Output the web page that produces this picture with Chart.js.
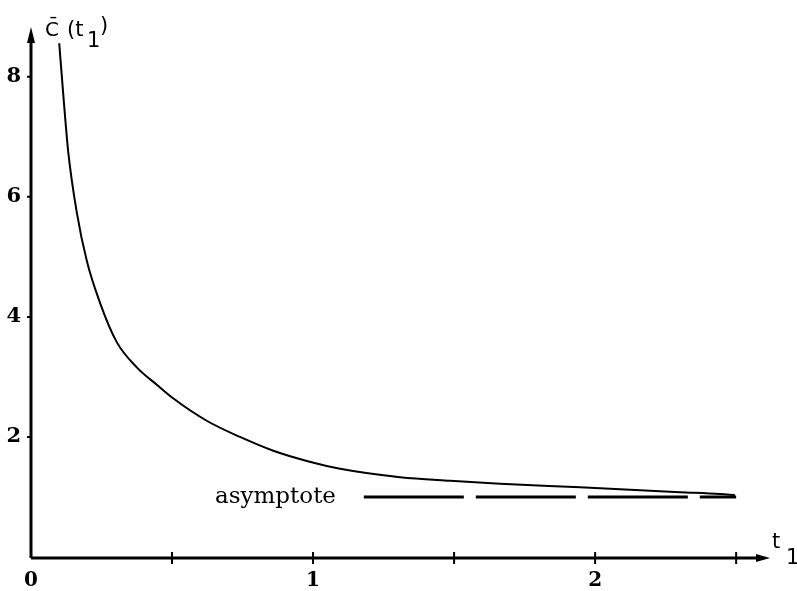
<!DOCTYPE html>
<html>
<head>
<meta charset="utf-8">
<script src="https://cdn.jsdelivr.net/npm/chart.js@4.4.1/dist/chart.umd.min.js"></script>
<style>
  html, body { margin: 0; padding: 0; background: #fff; }
  #wrap { width: 797px; height: 591px; }
</style>
</head>
<body>
<div id="wrap"><canvas id="costCurve"></canvas></div>
<script>
// C-bar(t1)
const tValues = [0.100, 0.115, 0.132, 0.162, 0.198, 0.245, 0.304, 0.375, 0.446, 0.505, 0.623, 0.741,
                 0.859, 0.978, 1.096, 1.309, 1.486, 1.663, 1.947, 2.301, 2.443, 2.496];
const cValues = [8.56, 7.67, 6.75, 5.75, 4.93, 4.23, 3.58, 3.16, 2.87, 2.64, 2.27, 2.00,
                 1.77, 1.60, 1.47, 1.33, 1.27, 1.22, 1.16, 1.08, 1.05, 1.03];
// horizontal asymptote C = 1
const asymptoteT = [1.18, 2.50];
const asymptoteC = [1, 1];
const xTicks = [0, 0.5, 1, 1.5, 2, 2.5];
const xLabels = [0, 1, 2];
const yTicks = [2, 4, 6, 8];

const curve = tValues.map((t, i) => ({ x: t, y: cValues[i] }));
const asym = asymptoteT.map((t, i) => ({ x: t, y: asymptoteC[i] }));

// axes with arrows, tick marks and the axis titles
const axesPlugin = {
    id: 'axes',
    afterDraw(chart) {
        const ctx = chart.ctx;
        const xs = chart.scales.x, ys = chart.scales.y;
        const x0 = xs.getPixelForValue(0), y0 = ys.getPixelForValue(0);
        const xEnd = xs.right, yEnd = ys.top;
        ctx.save();
        ctx.strokeStyle = '#000';
        ctx.fillStyle = '#000';
        ctx.lineWidth = 3;
        ctx.lineCap = 'butt';
        ctx.beginPath();
        ctx.moveTo(x0, y0 + 1);
        ctx.lineTo(xEnd - 8, y0 + 1);
        ctx.moveTo(x0, y0 + 1);
        ctx.lineTo(x0, yEnd + 8);
        ctx.stroke();
        // arrow heads
        ctx.beginPath();
        ctx.moveTo(xEnd, y0 + 1);
        ctx.lineTo(xEnd - 14, y0 - 3);
        ctx.lineTo(xEnd - 14, y0 + 5);
        ctx.closePath();
        ctx.fill();
        ctx.beginPath();
        ctx.moveTo(x0, yEnd);
        ctx.lineTo(x0 - 4, yEnd + 16);
        ctx.lineTo(x0 + 4, yEnd + 16);
        ctx.closePath();
        ctx.fill();
        // tick marks
        ctx.lineWidth = 2;
        ctx.beginPath();
        xTicks.slice(1).forEach(v => {
            const px = xs.getPixelForValue(v);
            ctx.moveTo(px, y0 - 5);
            ctx.lineTo(px, y0 + 7);
        });
        yTicks.forEach(v => {
            const py = ys.getPixelForValue(v);
            ctx.moveTo(x0 - 4, py);
            ctx.lineTo(x0, py);
        });
        ctx.stroke();
        // axis titles
        ctx.textBaseline = 'alphabetic';
        ctx.textAlign = 'left';
        ctx.font = '20px "DejaVu Sans"';
        ctx.fillText('C\u0304', 45, 36);
        ctx.font = '21px "DejaVu Sans"';
        ctx.fillText('(t', 67, 36);
        ctx.fillText('1', 87, 47);
        ctx.fillText(')', 100, 32);
        ctx.fillText('t', 772, 548);
        ctx.fillText('1', 786, 564);
        // asymptote label
        ctx.font = '23px "DejaVu Serif"';
        ctx.fillText('asymptote', 215, 503);
        ctx.restore();
    }
};

new Chart(document.getElementById('costCurve'), {
    type: 'scatter',
    data: {
        datasets: [{
            label: 'C(t1)',
            data: curve,
            showLine: true,
            borderColor: '#000',
            borderWidth: 2,
            pointRadius: 0,
            cubicInterpolationMode: 'monotone'
        }, {
            label: 'asymptote',
            data: asym,
            showLine: true,
            borderColor: '#000',
            borderWidth: 3,
            borderDash: [100, 12],
            pointRadius: 0
        }]
    },
    options: {
        responsive: true,
        maintainAspectRatio: false,
        animation: false,
        layout: { padding: { top: 27, right: 27, left: 0, bottom: 0 } },
        plugins: { legend: { display: false }, tooltip: { enabled: false } },
        scales: {
            x: {
                type: 'linear',
                min: 0,
                max: 2.62,
                grid: { display: false, drawTicks: false },
                border: { display: false },
                afterBuildTicks: s => { s.ticks = xLabels.map(v => ({ value: v })); },
                afterFit: s => { s.height = 34; },
                ticks: {
                    color: '#000',
                    padding: 12,
                    font: { family: 'DejaVu Serif', size: 20, weight: 'bold' },
                    callback: v => String(v)
                }
            },
            y: {
                type: 'linear',
                min: 0,
                max: 8.83,
                grid: { display: false, drawTicks: false },
                border: { display: false },
                afterBuildTicks: s => { s.ticks = yTicks.map(v => ({ value: v })); },
                afterFit: s => { s.width = 31; },
                ticks: {
                    color: '#000',
                    padding: 10,
                    font: { family: 'DejaVu Serif', size: 21, weight: 'bold' },
                    callback: v => String(v)
                }
            }
        }
    },
    plugins: [axesPlugin]
});
</script>
</body>
</html>
